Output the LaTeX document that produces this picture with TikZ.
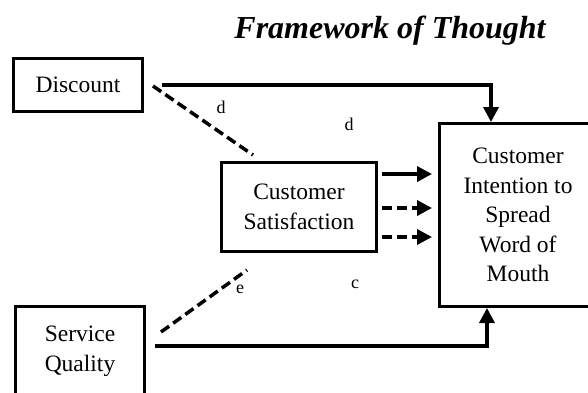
\documentclass[tikz,border=0pt]{standalone}
\usepackage{fontspec}
\setmainfont{Liberation Serif}
\usetikzlibrary{arrows.meta,calc}

\begin{document}
\begin{tikzpicture}[x=1pt,y=-1pt,
  box/.style={draw,line width=3pt,align=center,inner sep=0pt,
    font=\fontsize{23.5}{29.5}\selectfont},
  link/.style={line width=3.5pt,-{Triangle[length=15pt,width=15pt]}},
  dashlink/.style={line width=3.5pt,dash pattern=on 10pt off 5pt},
  lbl/.style={font=\fontsize{18}{20}\selectfont}]
  % Fix the frame of the picture
  \useasboundingbox (0,0) rectangle (588,392);
  \clip (0,0) rectangle (588,392);

  % Title
  \node[anchor=base,font=\fontsize{32}{36}\selectfont\bfseries\itshape] (title) at (390,38) {Framework of Thought};

  % Define the boxes
  \node[box,minimum width=129,minimum height=53] (disc) at (78,85) {Discount};
  \node[box,minimum width=155,minimum height=89] (sat) at (299,207) {Customer\\Satisfaction};
  \node[box,minimum width=157,minimum height=183] (intent) at (518,215) {Customer\\Intention to\\Spread\\Word of\\Mouth};
  \node[box,minimum width=129,minimum height=89] (serv) at (80,351) {Service\\Quality};

  % Direct paths to the intention box
  \draw[link] ($(disc.east)+(18,0)$) -| ($(intent.north)+(-27,0)$);
  \draw[link] ($(serv.east)+(9,-5)$) -| ($(intent.south)+(-31,0)$);

  % Dashed paths to satisfaction
  \draw[dashlink] ($(disc.east)+(9,1)$) -- ($(sat.north west)+(33,-6)$);
  \draw[dashlink] ($(serv.north east)+(15,27)$) -- ($(sat.south west)+(27,17)$);

  % Arrows from satisfaction to intention
  \draw[link] ($(sat.east)+(4,-33)$) -- ($(intent.west |- sat.east)+(-6,-33)$);
  \draw[link,dash pattern=on 10pt off 5pt] ($(sat.east)+(4,1)$) -- ($(intent.west |- sat.east)+(-6,1)$);
  \draw[link,dash pattern=on 10pt off 5pt] ($(sat.east)+(4,30)$) -- ($(intent.west |- sat.east)+(-6,30)$);

  % Path labels
  \node[lbl] (d1) at (221,107) {d};
  \node[lbl] (d2) at (349,124) {d};
  \node[lbl] (e1) at (240,289) {e};
  \node[lbl] (c1) at (355,284) {c};
\end{tikzpicture}
\end{document}
